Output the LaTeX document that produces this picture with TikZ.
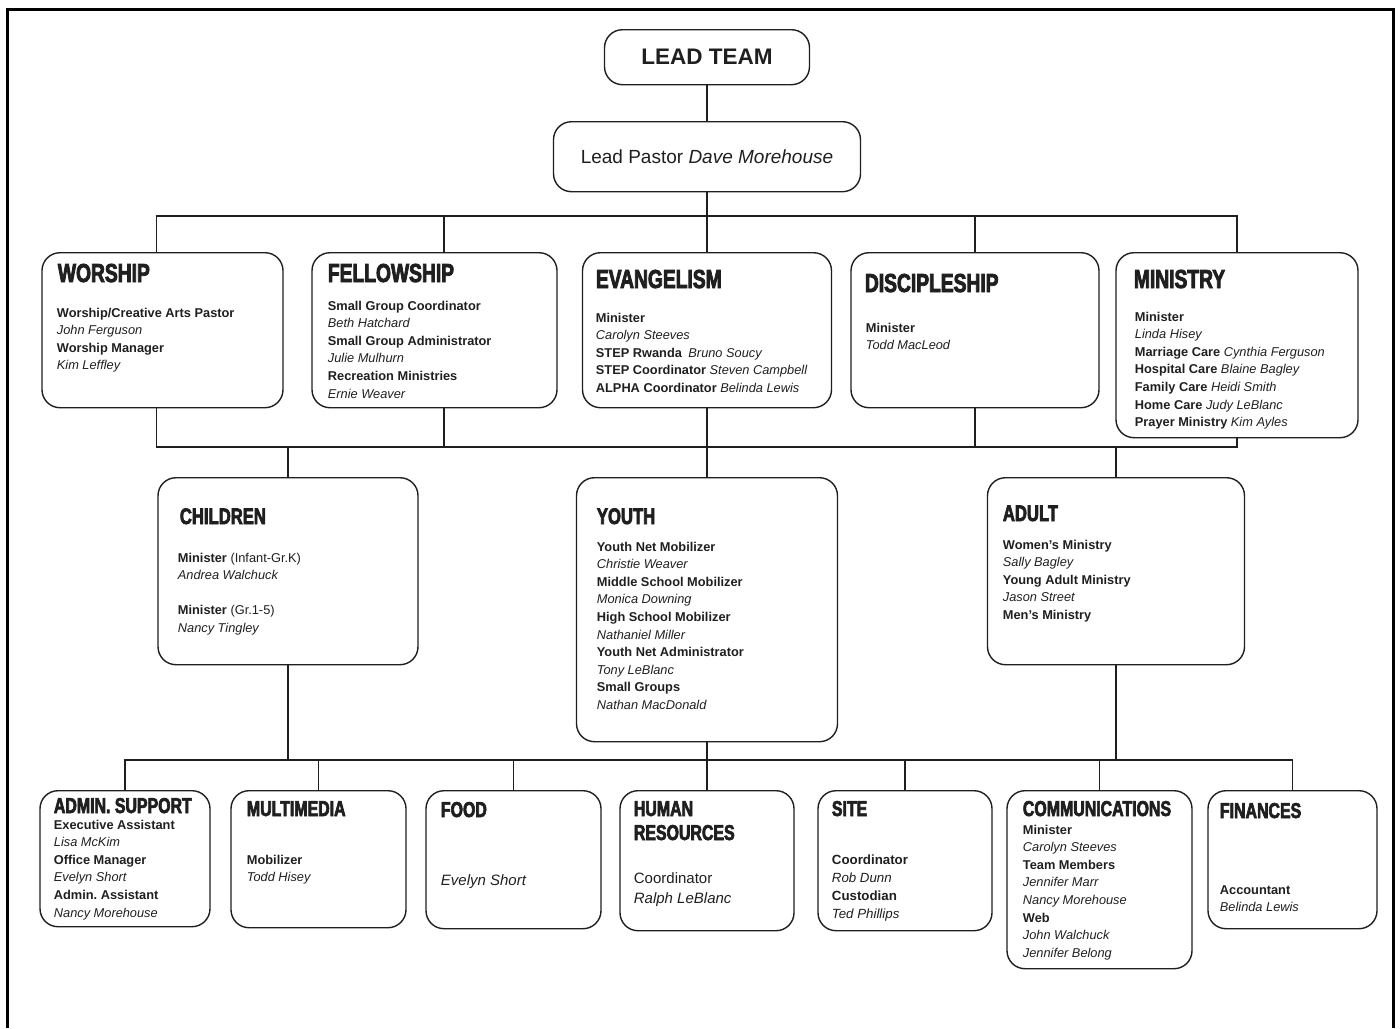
\documentclass[tikz,border=0pt]{standalone}
\usepackage{fontspec}
\setmainfont{Liberation Sans}
\newfontfamily\headfont[FakeStretch=0.74,FakeBold=3]{Liberation Sans}
\usetikzlibrary{positioning}
\definecolor{ink}{gray}{0.12}
\newcommand{\boxtext}[1]{\begin{tabular}[t]{@{}l@{}}#1\end{tabular}}
\frenchspacing

\begin{document}
\begin{tikzpicture}[x=1pt, y=-1pt, color=ink, line width=1.2pt,
  unit/.style = {draw, rounded corners=18pt, line width=1.4pt, inner sep=0pt, anchor=north},
  head/.style = {anchor=base west, inner sep=0pt, font={\headfont\bfseries\fontsize{#1}{24}\selectfont}},
  head/.default = 26,
  body/.style = {anchor=base west, inner sep=0pt, font={\fontsize{12.8}{17.6}\selectfont}},
  bigbody/.style = {body, font={\fontsize{15}{20}\selectfont}},
  sitebody/.style = {body, font={\fontsize{13.3}{18.3}\selectfont}}]
\useasboundingbox (0,0) rectangle (1400,1028);
\draw[line width=3pt, black] (7,1028) -- (7,9) -- (1393,9) -- (1393,1028);

% top of the chart
\node[unit, minimum width=205pt, minimum height=55pt, font=\bfseries\fontsize{22.5}{24}\selectfont] (lead) at (707,29) {LEAD TEAM};
\node[unit, minimum width=307pt, minimum height=70pt, font=\fontsize{19}{22}\selectfont] (pastor) at (707,121) {Lead Pastor \textit{Dave Morehouse}};

% first row
\node[unit, minimum width=241pt, minimum height=155pt] (worship) at (162.5,252) {};
\node[unit, minimum width=245pt, minimum height=155pt] (fellow) at (434.5,252) {};
\node[unit, minimum width=249pt, minimum height=155pt] (evang) at (707,252) {};
\node[unit, minimum width=248pt, minimum height=155pt] (discip) at (975,252) {};
\node[unit, minimum width=242pt, minimum height=185pt] (ministry) at (1237,252) {};

\node[head] (worshipT) at ([shift={(16,30)}]worship.north west) {WORSHIP};
\node[body] (worshipB) at ([shift={(15,65)}]worship.north west) {\boxtext{\textbf{Worship/Creative Arts Pastor}\\ \textit{John Ferguson}\\ \textbf{Worship Manager}\\ \textit{Kim Leffley}}};

\node[head] (fellowT) at ([shift={(16,30)}]fellow.north west) {FELLOWSHIP};
\node[body] (fellowB) at ([shift={(16,58)}]fellow.north west) {\boxtext{\textbf{Small Group Coordinator}\\ \textit{Beth Hatchard}\\ \textbf{Small Group Administrator}\\ \textit{Julie Mulhurn}\\ \textbf{Recreation Ministries}\\ \textit{Ernie Weaver}}};

\node[head] (evangT) at ([shift={(13.5,36)}]evang.north west) {EVANGELISM};
\node[body] (evangB) at ([shift={(13.5,70)}]evang.north west) {\boxtext{\textbf{Minister}\\ \textit{Carolyn Steeves}\\ \textbf{STEP Rwanda}\enspace\textit{Bruno Soucy}\\ \textbf{STEP Coordinator} \textit{Steven Campbell}\\ \textbf{ALPHA Coordinator} \textit{Belinda Lewis}}};

\node[head] (discipT) at ([shift={(14,40)}]discip.north west) {DISCIPLESHIP};
\node[body] (discipB) at ([shift={(15,80)}]discip.north west) {\boxtext{\textbf{Minister}\\ \textit{Todd MacLeod}}};

\node[head] (ministryT) at ([shift={(18,36)}]ministry.north west) {MINISTRY};
\node[body] (ministryB) at ([shift={(19,69)}]ministry.north west) {\boxtext{\textbf{Minister}\\ \textit{Linda Hisey}\\ \textbf{Marriage Care} \textit{Cynthia Ferguson}\\ \textbf{Hospital Care} \textit{Blaine Bagley}\\ \textbf{Family Care} \textit{Heidi Smith}\\ \textbf{Home Care} \textit{Judy LeBlanc}\\ \textbf{Prayer Ministry} \textit{Kim Ayles}}};

% second row
\node[unit, minimum width=260pt, minimum height=187pt] (children) at (288,477) {};
\node[unit, minimum width=261pt, minimum height=264pt] (youth) at (707,477) {};
\node[unit, minimum width=257pt, minimum height=187pt] (adult) at (1116,477) {};

\node[head=22.5] (childrenT) at ([shift={(22,47)}]children.north west) {CHILDREN};
\node[body] (childrenB) at ([shift={(20,85)}]children.north west) {\boxtext{\textbf{Minister} (Infant-Gr.K)\\ \textit{Andrea Walchuck}\\[17.6pt] \textbf{Minister} (Gr.1-5)\\ \textit{Nancy Tingley}}};

\node[head=22.5] (youthT) at ([shift={(20.5,47)}]youth.north west) {YOUTH};
\node[body] (youthB) at ([shift={(20.5,74)}]youth.north west) {\boxtext{\textbf{Youth Net Mobilizer}\\ \textit{Christie Weaver}\\ \textbf{Middle School Mobilizer}\\ \textit{Monica Downing}\\ \textbf{High School Mobilizer}\\ \textit{Nathaniel Miller}\\ \textbf{Youth Net Administrator}\\ \textit{Tony LeBlanc}\\ \textbf{Small Groups}\\ \textit{Nathan MacDonald}}};

\node[head=22.5] (adultT) at ([shift={(15.5,44)}]adult.north west) {ADULT};
\node[body] (adultB) at ([shift={(15.5,72)}]adult.north west) {\boxtext{\textbf{Women's Ministry}\\ \textit{Sally Bagley}\\ \textbf{Young Adult Ministry}\\ \textit{Jason Street}\\ \textbf{Men's Ministry}}};

% third row
\node[unit, minimum width=170pt, minimum height=136pt] (admin) at (125,790) {};
\node[unit, minimum width=175pt, minimum height=137pt] (multi) at (318.5,790) {};
\node[unit, minimum width=175pt, minimum height=138pt] (food) at (513.5,790) {};
\node[unit, minimum width=174pt, minimum height=140pt] (hr) at (707,790) {};
\node[unit, minimum width=174pt, minimum height=140pt] (site) at (905,790) {};
\node[unit, minimum width=185pt, minimum height=178pt] (comm) at (1099.5,790) {};
\node[unit, minimum width=169pt, minimum height=138pt] (fin) at (1292.5,790) {};

\node[head=21.5] (adminT) at ([shift={(14,23)}]admin.north west) {ADMIN. SUPPORT};
\node[body] (adminB) at ([shift={(14,39)}]admin.north west) {\boxtext{\textbf{Executive Assistant}\\ \textit{Lisa McKim}\\ \textbf{Office Manager}\\ \textit{Evelyn Short}\\ \textbf{Admin. Assistant}\\ \textit{Nancy Morehouse}}};

\node[head=21.5] (multiT) at ([shift={(16,26)}]multi.north west) {MULTIMEDIA};
\node[body] (multiB) at ([shift={(16,74)}]multi.north west) {\boxtext{\textbf{Mobilizer}\\ \textit{Todd Hisey}}};

\node[head=21.5] (foodT) at ([shift={(15,27)}]food.north west) {FOOD};
\node[bigbody] (foodB) at ([shift={(15,95)}]food.north west) {\textit{Evelyn Short}};

\node[head=21.5] (hrT) at ([shift={(14,26)}]hr.north west) {\boxtext{HUMAN\\ RESOURCES}};
\node[bigbody] (hrB) at ([shift={(14,93)}]hr.north west) {\boxtext{Coordinator\\ \textit{Ralph LeBlanc}}};

\node[head=21.5] (siteT) at ([shift={(14,26)}]site.north west) {SITE};
\node[sitebody] (siteB) at ([shift={(14,74)}]site.north west) {\boxtext{\textbf{Coordinator}\\ \textit{Rob Dunn}\\ \textbf{Custodian}\\ \textit{Ted Phillips}}};

\node[head=21.5] (commT) at ([shift={(16,26)}]comm.north west) {COMMUNICATIONS};
\node[body] (commB) at ([shift={(16,44)}]comm.north west) {\boxtext{\textbf{Minister}\\ \textit{Carolyn Steeves}\\ \textbf{Team Members}\\ \textit{Jennifer Marr}\\ \textit{Nancy Morehouse}\\ \textbf{Web}\\ \textit{John Walchuck}\\ \textit{Jennifer Belong}}};

\node[head=21.5] (finT) at ([shift={(12,28)}]fin.north west) {FINANCES};
\node[body] (finB) at ([shift={(12,104)}]fin.north west) {\boxtext{\textbf{Accountant}\\ \textit{Belinda Lewis}}};

% connectors
\coordinate (bar1) at (707,216);
\coordinate (bar2) at (707,447);
\coordinate (bar3) at (707,760);

\draw (lead) -- (pastor);
\draw (pastor) -- (bar1);
\draw ([xshift=-6]worship.north) |- (bar1);
\draw ([xshift=9.5]fellow.north) |- (bar1);
\draw (evang) -- (bar1);
\draw (discip.north) |- (bar1);
\draw (ministry.north) |- (bar1);

\draw ([xshift=-6]worship.south) |- (bar2);
\draw ([xshift=9.5]fellow.south) |- (bar2);
\draw (evang) -- (youth);
\draw (discip.south) |- (bar2);
\draw (ministry.south) |- (bar2);
\draw (children.north) |- (bar2);
\draw (adult.north) |- (bar2);

\draw (children.south) |- (bar3);
\draw (youth) -- (hr);
\draw (adult.south) |- (bar3);
\foreach \n in {admin,multi,food,site,comm,fin}
  \draw (\n.north) |- (bar3);

\end{tikzpicture}
\end{document}
